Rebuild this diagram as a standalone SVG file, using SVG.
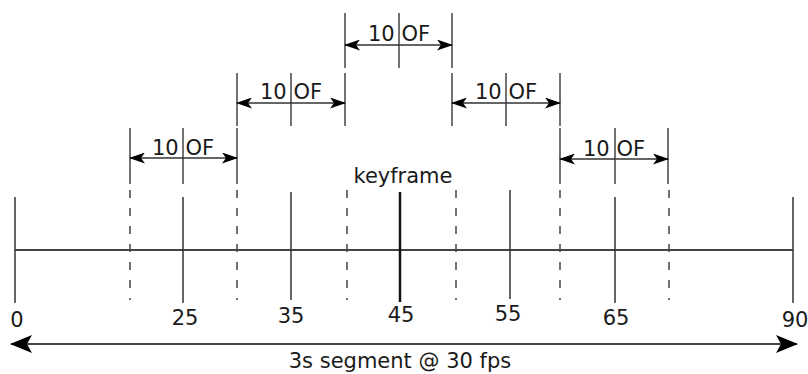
<svg xmlns="http://www.w3.org/2000/svg" width="808" height="374" viewBox="0 0 808 374">
  <defs>
    <marker id="sm" viewBox="0 0 16 11" refX="15" refY="5.5" markerWidth="16" markerHeight="11" markerUnits="userSpaceOnUse" orient="auto-start-reverse">
      <path d="M0,0 L16,5.5 L0,11 L4,5.5 Z" fill="#000"/>
    </marker>
    <marker id="big" viewBox="0 0 22 18" refX="21" refY="9" markerWidth="22" markerHeight="18" markerUnits="userSpaceOnUse" orient="auto-start-reverse">
      <path d="M0,0 L22,9 L0,18 L5,9 Z" fill="#000"/>
    </marker>
  </defs>
  <style>
    text { font-family: "DejaVu Sans", "Liberation Sans", sans-serif; font-size: 21px; fill: #1a1a1a; }
    .tick { stroke: #333; stroke-width: 1.5; }
    .key { stroke: #111; stroke-width: 2.5; }
    .dash { stroke: #444; stroke-width: 1.5; stroke-dasharray: 8 10; }
    .bar { stroke: #444; stroke-width: 1.5; }
    .dim { stroke: #333; stroke-width: 1.5; marker-start: url(#sm); marker-end: url(#sm); }
    .axis { stroke: #444; stroke-width: 2; }
    .span { stroke: #444; stroke-width: 2.2; marker-start: url(#big); marker-end: url(#big); }
  </style>

  <!-- timeline axis and frame ticks -->
  <g id="timeline">
    <line class="axis" x1="15" y1="250" x2="793" y2="250"/>
    <line class="tick" x1="15" y1="197" x2="15" y2="303"/>
    <line class="tick" x1="183" y1="197" x2="183" y2="303"/>
    <line class="tick" x1="291" y1="192" x2="291" y2="300"/>
    <line class="key" x1="400" y1="192" x2="400" y2="302"/>
    <line class="tick" x1="510" y1="190" x2="510" y2="299"/>
    <line class="tick" x1="615" y1="197" x2="615" y2="303"/>
    <line class="tick" x1="793" y1="197" x2="793" y2="303"/>
    <text x="17" y="327" text-anchor="middle">0</text>
    <text x="185" y="325" text-anchor="middle">25</text>
    <text x="291" y="323" text-anchor="middle">35</text>
    <text x="401" y="322" text-anchor="middle">45</text>
    <text x="508" y="321" text-anchor="middle">55</text>
    <text x="616" y="325" text-anchor="middle">65</text>
    <text x="795" y="327" text-anchor="middle">90</text>
  </g>

  <!-- window boundaries -->
  <g id="boundaries">
    <line class="dash" x1="130" y1="190" x2="130" y2="300"/>
    <line class="dash" x1="237" y1="190" x2="237" y2="300"/>
    <line class="dash" x1="347" y1="190" x2="347" y2="300"/>
    <line class="dash" x1="456" y1="190" x2="456" y2="300"/>
    <line class="dash" x1="560" y1="190" x2="560" y2="300"/>
    <line class="dash" x1="669" y1="190" x2="669" y2="300"/>
  </g>

  <g id="keyframe-label">
    <text x="403" y="183" text-anchor="middle">keyframe</text>
  </g>

  <!-- 10 OF windows -->
  <g id="win-l1">
    <line class="bar" x1="130" y1="128" x2="130" y2="184"/>
    <line class="bar" x1="183" y1="128" x2="183" y2="184"/>
    <line class="bar" x1="237" y1="128" x2="237" y2="184"/>
    <line class="dim" x1="130" y1="158" x2="237" y2="158"/>
    <text x="183" y="155" text-anchor="middle">10 OF</text>
  </g>
  <g id="win-l2">
    <line class="bar" x1="237" y1="73" x2="237" y2="126"/>
    <line class="bar" x1="291" y1="73" x2="291" y2="126"/>
    <line class="bar" x1="345" y1="73" x2="345" y2="126"/>
    <line class="dim" x1="237" y1="103" x2="345" y2="103"/>
    <text x="291" y="99" text-anchor="middle">10 OF</text>
  </g>
  <g id="win-center">
    <line class="bar" x1="345" y1="13" x2="345" y2="68"/>
    <line class="bar" x1="399" y1="13" x2="399" y2="68"/>
    <line class="bar" x1="452" y1="13" x2="452" y2="68"/>
    <line class="dim" x1="345" y1="45" x2="452" y2="45"/>
    <text x="399" y="41" text-anchor="middle">10 OF</text>
  </g>
  <g id="win-r2">
    <line class="bar" x1="452" y1="73" x2="452" y2="126"/>
    <line class="bar" x1="506" y1="73" x2="506" y2="126"/>
    <line class="bar" x1="560" y1="73" x2="560" y2="126"/>
    <line class="dim" x1="452" y1="103" x2="560" y2="103"/>
    <text x="506" y="99" text-anchor="middle">10 OF</text>
  </g>
  <g id="win-r1">
    <line class="bar" x1="560" y1="128" x2="560" y2="184"/>
    <line class="bar" x1="615" y1="128" x2="615" y2="184"/>
    <line class="bar" x1="668" y1="128" x2="668" y2="184"/>
    <line class="dim" x1="560" y1="159" x2="668" y2="159"/>
    <text x="614" y="156" text-anchor="middle">10 OF</text>
  </g>

  <!-- whole segment span -->
  <g id="connectors">
    <line class="span" x1="11" y1="344" x2="797" y2="344"/>
    <text x="400" y="368" text-anchor="middle">3s segment @ 30 fps</text>
  </g>
</svg>
